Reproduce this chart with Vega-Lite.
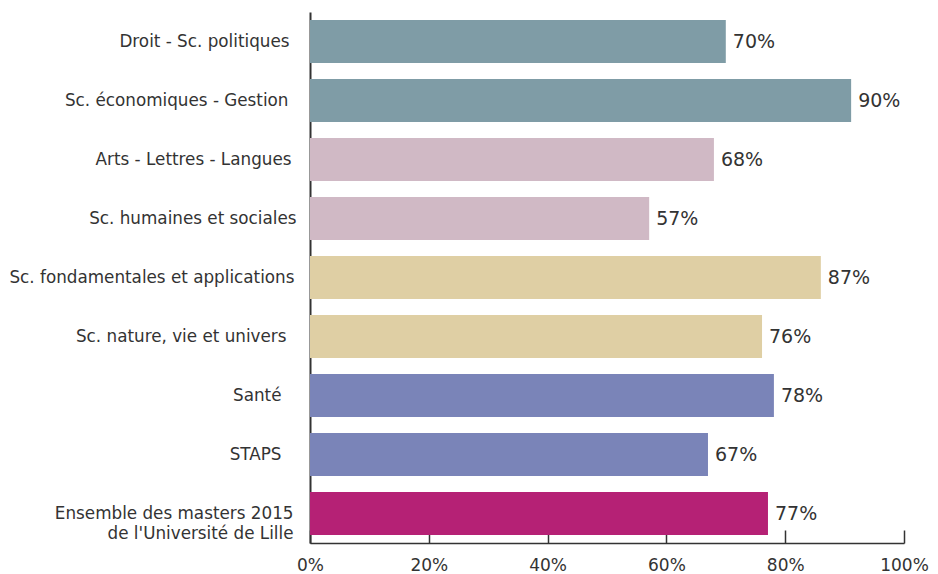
{
  "$schema": "https://vega.github.io/schema/vega-lite/v6.json",
  "autosize": {"type": "none"},
  "padding": {"left": 310, "top": 12, "right": 34, "bottom": 31},
  "width": 594,
  "height": 531,
  "background": "white",
  "config": {"view": {"stroke": null}, "font": "DejaVu Sans"},
  "data": {"values": [
    {"cat": "Droit - Sc. politiques", "v": 0.70, "lab": "70%", "g": "a"},
    {"cat": "Sc. économiques - Gestion", "v": 0.911, "lab": "90%", "g": "a"},
    {"cat": "Arts - Lettres - Langues", "v": 0.68, "lab": "68%", "g": "b"},
    {"cat": "Sc. humaines et sociales", "v": 0.571, "lab": "57%", "g": "b"},
    {"cat": "Sc. fondamentales et applications", "v": 0.86, "lab": "87%", "g": "c"},
    {"cat": "Sc. nature, vie et univers", "v": 0.761, "lab": "76%", "g": "c"},
    {"cat": "Santé", "v": 0.781, "lab": "78%", "g": "d"},
    {"cat": "STAPS", "v": 0.67, "lab": "67%", "g": "d"},
    {"cat": "Ensemble des masters 2015|de l'Université de Lille", "v": 0.771, "lab": "77%", "g": "e"}
  ]},
  "encoding": {
    "y": {"field": "cat", "type": "nominal", "sort": null,
      "scale": {"paddingInner": 0.27, "paddingOuter": 0.135},
      "axis": {"title": null, "ticks": false, "labelFontSize": 16.8, "labelColor": "#333333",
        "labelPadding": {"condition": [
          {"test": "datum.value == 'Droit - Sc. politiques'", "value": 21},
          {"test": "datum.value == 'Sc. économiques - Gestion'", "value": 22},
          {"test": "datum.value == 'Arts - Lettres - Langues'", "value": 19},
          {"test": "datum.value == 'Sc. fondamentales et applications'", "value": 16},
          {"test": "datum.value == 'Sc. nature, vie et univers'", "value": 24},
          {"test": "datum.value == 'Santé' || datum.value == 'STAPS'", "value": 29},
          {"test": "indexof(datum.value, 'Ensemble') == 0", "value": 17}
        ], "value": 14},
        "domainColor": "#333333", "domainWidth": 2, "labelLimit": 400,
        "labelExpr": "split(datum.value, '|')", "labelLineHeight": 20}},
    "x": {"field": "v", "type": "quantitative", "scale": {"domain": [0, 1]},
      "axis": {"title": null, "values": [0, 0.2, 0.4, 0.6, 0.8, 1], "grid": false,
        "format": ".0%", "labelFontSize": 17, "labelColor": "#333333",
        "tickSize": -13, "tickColor": "#333333", "tickWidth": 1.5, "domainColor": "#333333",
        "domainWidth": 1.5, "labelPadding": 27, "labelFlush": false}}
  },
  "layer": [
    {"mark": {"type": "bar"},
     "encoding": {"color": {"field": "g", "type": "nominal", "legend": null,
       "scale": {"domain": ["a", "b", "c", "d", "e"],
         "range": ["#7f9ca6", "#d0b9c5", "#dfcfa4", "#7a84b8", "#b52175"]}}}},
    {"mark": {"type": "text", "align": "left", "dx": 7, "fontSize": 19, "color": "#333333"},
     "encoding": {"text": {"field": "lab", "type": "nominal"}}}
  ]
}
